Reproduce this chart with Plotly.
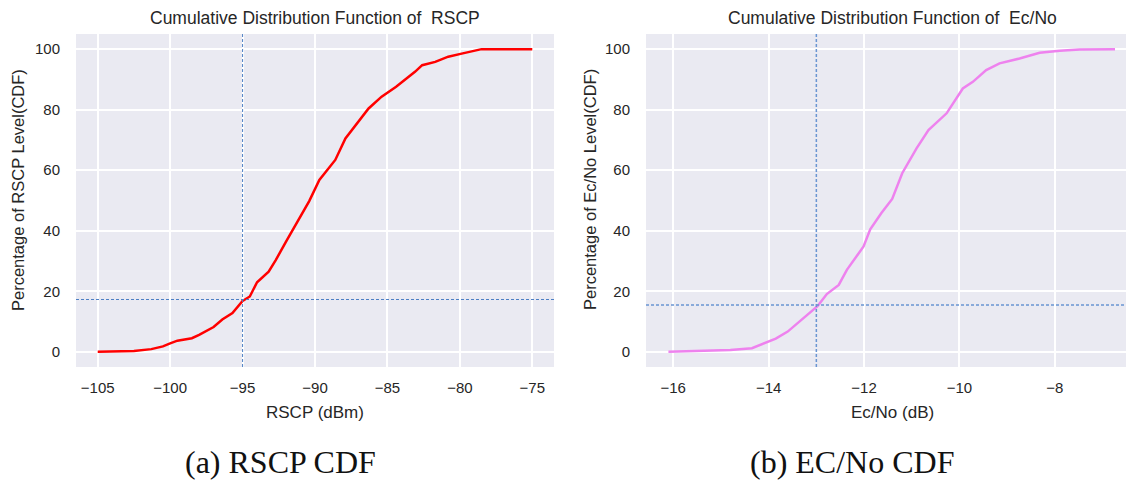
import plotly.graph_objects as go

# ---- data ----
rscp_x = [-105, -103.5, -102.5, -101.3, -100.5, -100, -99.5, -98.5, -98, -97, -96.4, -95.7,
          -95, -94.5, -94, -93.2, -92.7, -92, -91.1, -90.4, -89.7, -89, -88.6, -87.9, -87.2,
          -86.3, -85.4, -84.4, -83.1, -82.6, -81.7, -80.8, -79.8, -78.8, -78.5, -75]
rscp_cdf = [0, 0.1, 0.3, 0.9, 1.8, 2.8, 3.7, 4.5, 5.6, 8.2, 10.7, 12.8,
            16.8, 18.3, 23, 26.5, 30.4, 36.4, 44, 49.8, 56.8, 61.2, 63.4, 70.5, 74.9,
            80.4, 84.3, 87.6, 92.5, 94.7, 95.8, 97.5, 98.6, 99.5, 100, 100]

ecno_x = [-16.1, -15.4, -14.8, -14.35, -14.17, -14.0, -13.85, -13.6, -13.4, -13.2, -12.97,
          -12.78, -12.53, -12.36, -12.18, -12.01, -11.87, -11.64, -11.41, -11.2, -10.9,
          -10.65, -10.27, -9.93, -9.72, -9.44, -9.16, -8.74, -8.32, -7.9, -7.48, -6.74]
ecno_cdf = [0, 0.3, 0.6, 1.2, 2.3, 3.3, 4.4, 6.7, 9.5, 12.2, 15.2,
            19.1, 22.1, 27.1, 30.9, 34.8, 40.5, 45.8, 50.5, 59, 67.2,
            73.3, 78.8, 87, 89.2, 93.1, 95.3, 96.9, 98.8, 99.5, 99.9, 100]

rscp_threshold = -95
rscp_threshold_pct = 17.3
ecno_threshold = -13
ecno_threshold_pct = 15.5

rscp_ticks = [-105, -100, -95, -90, -85, -80, -75]
ecno_ticks = [-16, -14, -12, -10, -8]
y_ticks = [0, 20, 40, 60, 80, 100]

titles = ["Cumulative Distribution Function of  RSCP", "Cumulative Distribution Function of  Ec/No"]
xlabels = ["RSCP (dBm)", "Ec/No (dB)"]
ylabels = ["Percentage of RSCP Level(CDF)", "Percentage of Ec/No Level(CDF)"]
captions = ["(a) RSCP CDF", "(b) EC/No CDF"]

# ---- layout helpers ----
W, H = 1126, 480
def fx(px):
    return px / W
def fy(py):
    return 1 - py / H

dom1 = [fx(76), fx(554)]
dom2 = [fx(646), 1.0]
ydom = [fy(367), fy(34)]

fig = go.Figure()
fig.add_trace(go.Scatter(x=rscp_x, y=rscp_cdf, mode="lines",
                         line=dict(color="#FF0000", width=2.5), xaxis="x", yaxis="y",
                         showlegend=False))
fig.add_trace(go.Scatter(x=ecno_x, y=ecno_cdf, mode="lines",
                         line=dict(color="#EE82EE", width=2.5), xaxis="x2", yaxis="y2",
                         showlegend=False))

sans = "Liberation Sans, Arial, sans-serif"
serif = "Liberation Serif, DejaVu Serif, serif"
tickfont = dict(family=sans, size=15, color="#262626")
common_x = dict(showgrid=True, gridcolor="white", gridwidth=2, zeroline=False, showline=False,
                tickfont=tickfont, ticks="", ticklabelstandoff=10)
common_y = dict(showgrid=True, gridcolor="white", gridwidth=2, zeroline=False, showline=False,
                tickfont=tickfont, ticks="", ticklabelstandoff=15, range=[-5, 105],
                tickvals=y_ticks, domain=ydom)

fig.update_layout(
    width=W, height=H, margin=dict(l=0, r=0, t=0, b=0),
    paper_bgcolor="white", plot_bgcolor="#EAEAF2",
    xaxis=dict(domain=dom1, range=[-106.5, -73.5], tickvals=rscp_ticks,
               ticktext=["\u2212" + str(abs(v)) for v in rscp_ticks], anchor="y", **common_x),
    yaxis=dict(anchor="x", **common_y),
    xaxis2=dict(domain=dom2, range=[-16.57, -6.51], tickvals=ecno_ticks,
                ticktext=["\u2212" + str(abs(v)) for v in ecno_ticks], anchor="y2", **common_x),
    yaxis2=dict(anchor="x2", **common_y),
)

# threshold lines
fig.add_shape(type="line", xref="x", yref="y domain", x0=rscp_threshold, x1=rscp_threshold,
              y0=0, y1=1, line=dict(color="#4C7FC4", width=1, dash="3px,2px"))
fig.add_shape(type="line", xref="x domain", yref="y", x0=0, x1=1, y0=rscp_threshold_pct,
              y1=rscp_threshold_pct, line=dict(color="#4C7FC4", width=1, dash="3px,2px"))
fig.add_shape(type="line", xref="x2", yref="y2 domain", x0=ecno_threshold, x1=ecno_threshold,
              y0=0, y1=1, line=dict(color="#6A95D2", width=1.5, dash="3px,2px"))
fig.add_shape(type="line", xref="x2 domain", yref="y2", x0=0, x1=1, y0=ecno_threshold_pct,
              y1=ecno_threshold_pct, line=dict(color="#6A95D2", width=1.5, dash="3px,2px"))

axis_centers = [315, 892]
caption_centers = [280, 852]
ylab_x = [18, 590]
for i in range(2):
    fig.add_annotation(text=titles[i], x=fx(axis_centers[i]), y=fy(18), xref="paper", yref="paper",
                       showarrow=False, font=dict(family=sans, size=17.5, color="#262626"),
                       xanchor="center", yanchor="middle")
    fig.add_annotation(text=xlabels[i], x=fx(axis_centers[i]), y=fy(412), xref="paper", yref="paper",
                       showarrow=False, font=dict(family=sans, size=17, color="#262626"),
                       xanchor="center", yanchor="middle")
    fig.add_annotation(text=ylabels[i], x=fx(ylab_x[i]), y=fy(190), xref="paper", yref="paper",
                       showarrow=False, textangle=-90,
                       font=dict(family=sans, size=16.5, color="#262626"),
                       xanchor="center", yanchor="middle")
    fig.add_annotation(text=captions[i], x=fx(caption_centers[i]), y=fy(462), xref="paper",
                       yref="paper", showarrow=False,
                       font=dict(family=serif, size=32, color="#111111"),
                       xanchor="center", yanchor="middle")

fig.write_html("out.html")
